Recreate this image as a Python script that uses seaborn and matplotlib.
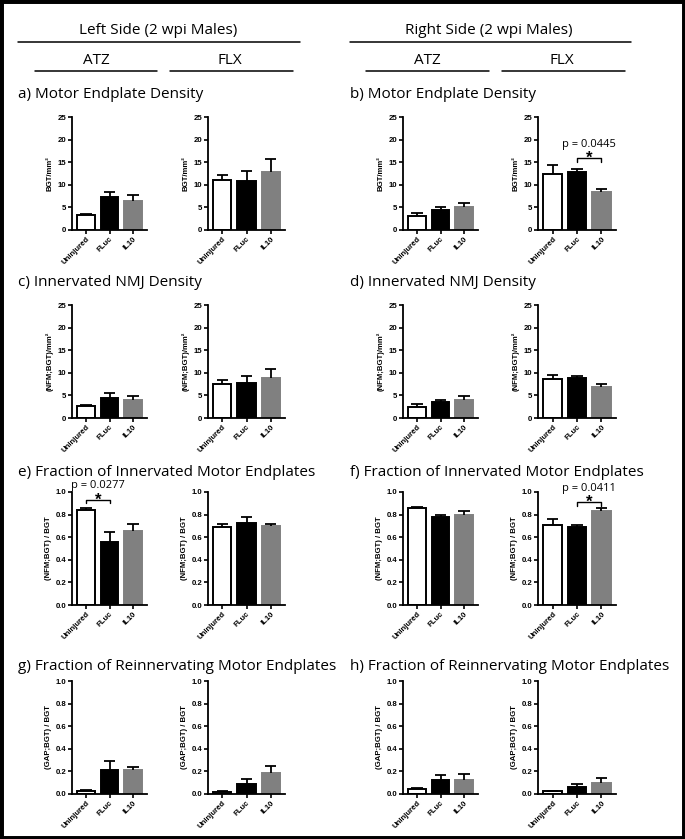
import numpy as np
import pandas as pd
import seaborn as sns
import matplotlib.pyplot as plt
from matplotlib.patches import Rectangle
from matplotlib.lines import Line2D

# groups shown in every small bar chart
groups = ["Uninjured", "FLuc", "IL10"]
bar_colors = ["white", "black", "#808080"]

# bar heights (mean) and upper error bar length
# each panel has two charts: ATZ, FLX
a_mean = [[3.3, 7.2, 6.4], [11.0, 10.9, 12.8]]
a_err = [[0.25, 1.2, 1.4], [1.2, 2.1, 2.8]]
b_mean = [[3.0, 4.5, 5.0], [12.5, 12.8, 8.3]]
b_err = [[0.7, 0.6, 1.0], [1.9, 0.8, 0.8]]
c_mean = [[2.7, 4.4, 4.0], [7.5, 7.8, 8.8]]
c_err = [[0.2, 1.2, 0.8], [0.8, 1.4, 2.0]]
d_mean = [[2.5, 3.5, 4.0], [8.6, 8.8, 6.9]]
d_err = [[0.5, 0.5, 0.9], [1.0, 0.6, 0.7]]
e_mean = [[0.845, 0.555, 0.655], [0.69, 0.73, 0.695]]
e_err = [[0.015, 0.09, 0.06], [0.025, 0.05, 0.025]]
f_mean = [[0.855, 0.78, 0.795], [0.71, 0.69, 0.83]]
f_err = [[0.01, 0.02, 0.035], [0.055, 0.015, 0.03]]
g_mean = [[0.03, 0.21, 0.21], [0.02, 0.09, 0.19]]
g_err = [[0.005, 0.085, 0.03], [0.005, 0.04, 0.055]]
h_mean = [[0.045, 0.12, 0.125], [0.025, 0.065, 0.10]]
h_err = [[0.005, 0.045, 0.05], [0.005, 0.025, 0.045]]

# significance marks: (panel, chart index, from group, to group, bracket height, label)
sig_marks = [
    ("b", 1, "FLuc", "IL10", 15.9, "p = 0.0445"),
    ("e", 0, "Uninjured", "FLuc", 0.93, "p = 0.0277"),
    ("f", 1, "FLuc", "IL10", 0.91, "p = 0.0411"),
]

titles = {
    "a": "a) Motor Endplate Density",
    "b": "b) Motor Endplate Density",
    "c": "c) Innervated NMJ Density",
    "d": "d) Innervated NMJ Density",
    "e": "e) Fraction of Innervated Motor Endplates",
    "f": "f) Fraction of Innervated Motor Endplates",
    "g": "g) Fraction of Reinnervating Motor Endplates",
    "h": "h) Fraction of Reinnervating Motor Endplates",
}
ylabels = {
    "a": "BGT/mm²", "b": "BGT/mm²",
    "c": "(NFM;BGT)/mm²", "d": "(NFM;BGT)/mm²",
    "e": "(NFM;BGT) / BGT", "f": "(NFM;BGT) / BGT",
    "g": "(GAP;BGT) / BGT", "h": "(GAP;BGT) / BGT",
}
panel_data = {
    "a": (a_mean, a_err), "b": (b_mean, b_err),
    "c": (c_mean, c_err), "d": (d_mean, d_err),
    "e": (e_mean, e_err), "f": (f_mean, f_err),
    "g": (g_mean, g_err), "h": (h_mean, h_err),
}

sns.set_style("white")
title_font = ["Open Sans", "DejaVu Sans"]
tick_font = ["Liberation Sans", "DejaVu Sans"]
plt.rcParams["font.family"] = tick_font
for k in ("text.color", "axes.labelcolor", "xtick.color", "ytick.color",
          "axes.edgecolor"):
    plt.rcParams[k] = "black"

W, H = 685, 839
fig = plt.figure(figsize=(W / 100, H / 100), dpi=100)


def px_axes(x0, y0, x1, y1):
    return fig.add_axes([x0 / W, 1 - y1 / H, (x1 - x0) / W, (y1 - y0) / H])


def hline(x0, x1, y):
    fig.add_artist(Line2D([x0 / W, x1 / W], [1 - y / H, 1 - y / H],
                          color="black", lw=1.1))


def ftext(x, y, s, size=11, ha="center"):
    fig.text(x / W, 1 - y / H, s, ha=ha, va="center", fontsize=size,
             family=title_font, color="black")


def draw(ax, means, errs, density):
    df = pd.DataFrame({"group": groups, "value": means})
    sns.barplot(data=df, x="group", y="value", hue="group",
                palette=bar_colors, width=0.75, errorbar=None,
                legend=False, ax=ax)
    for patch, col in zip(ax.patches, bar_colors):
        patch.set_edgecolor("black" if col != "#808080" else col)
        patch.set_linewidth(1.4)
    tops = np.array(means) + np.array(errs)
    xs = np.arange(len(groups))
    ax.vlines(xs, means, tops, color="black", lw=1.3, zorder=1)
    ax.hlines(tops, xs - 0.24, xs + 0.24, color="black", lw=1.3, zorder=1)
    ax.set_xlim(-0.6, 2.6)
    if density:
        ax.set_ylim(0, 25)
        ax.set_yticks([0, 5, 10, 15, 20, 25])
    else:
        ax.set_ylim(0, 1.0)
        ax.set_yticks([0, 0.2, 0.4, 0.6, 0.8, 1.0])
        ax.set_yticklabels(["0.0", "0.2", "0.4", "0.6", "0.8", "1.0"])
    ax.set_xlabel("")
    sns.despine(ax=ax)
    for sp in ("left", "bottom"):
        ax.spines[sp].set_linewidth(1.3)
        ax.spines[sp].set_color("black")
    ax.tick_params(axis="both", direction="out", length=3, width=1.2,
                   labelsize=5.6, pad=1, left=True, bottom=True,
                   colors="black")
    for lab in ax.get_xticklabels() + ax.get_yticklabels():
        lab.set_fontweight("bold")
    plt.setp(ax.get_xticklabels(), rotation=45, ha="right",
             rotation_mode="anchor")


# layout in pixels
rows = {"a": 117, "b": 117, "c": 305, "d": 305,
        "e": 492, "f": 492, "g": 681, "h": 681}
cols_left = [(72, 147), (208, 285)]
cols_right = [(403, 478), (538, 616)]
title_y = {"a": 94, "c": 282, "e": 473, "g": 667}

axes = {}
for key in "abcdefgh":
    top = rows[key]
    cols = cols_left if key in "aceg" else cols_right
    means, errs = panel_data[key]
    for i, (x0, x1) in enumerate(cols):
        ax = px_axes(x0, top, x1, top + 113)
        draw(ax, means[i], errs[i], key in "abcd")
        ax.set_ylabel(ylabels[key], fontsize=5.6, fontweight="bold",
                      labelpad=3)
        axes[(key, i)] = ax
    ty = title_y[chr(ord(key) - 1)] if key in "bdfh" else title_y[key]
    ftext(18 if key in "aceg" else 350, ty, titles[key], ha="left")

for key, i, g1, g2, yb, label in sig_marks:
    ax = axes[(key, i)]
    x1, x2 = groups.index(g1), groups.index(g2)
    ymax = ax.get_ylim()[1]
    drop = 0.03 * ymax
    ax.plot([x1, x1, x2, x2], [yb - drop, yb, yb, yb - drop], color="black",
            lw=1.0, clip_on=False)
    ax.text((x1 + x2) / 2, yb - 0.045 * ymax, "*", ha="center",
            va="baseline", fontsize=12, fontweight="bold", family=tick_font,
            clip_on=False)
    ax.text((x1 + x2) / 2, yb + 0.125 * ymax, label, ha="center",
            va="center", fontsize=8, family=title_font, clip_on=False)

# headers
ftext(158, 30, "Left Side (2 wpi Males)")
ftext(489, 30, "Right Side (2 wpi Males)")
hline(18, 300, 42)
hline(350, 631, 42)
for cx, (x0, x1), lab in [(96, (35, 157), "ATZ"), (230, (170, 293), "FLX"),
                          (427, (366, 489), "ATZ"), (562, (502, 625), "FLX")]:
    ftext(cx, 60, lab)
    hline(x0, x1, 71)

fig.add_artist(Rectangle((0, 0), 1, 1, transform=fig.transFigure,
                         fill=False, lw=5, ec="black"))

fig.savefig("out.png", dpi=100)
